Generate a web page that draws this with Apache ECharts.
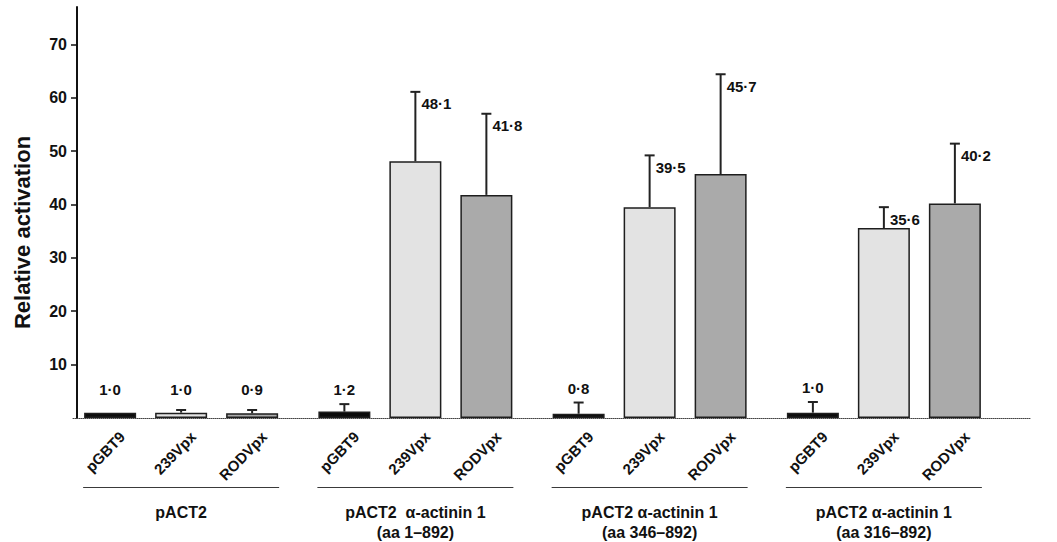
<!DOCTYPE html>
<html><head><meta charset="utf-8">
<script src="https://cdn.jsdelivr.net/npm/echarts@6/dist/echarts.min.js"></script>
<style>html,body{margin:0;padding:0;background:#fff}#c{width:1057px;height:542px}</style>
</head><body><div id="c"></div>
<script>
// ---- data ----
const groups = ['pACT2', 'pACT2  α-actinin 1\n(aa 1–892)', 'pACT2 α-actinin 1\n(aa 346–892)', 'pACT2 α-actinin 1\n(aa 316–892)'];
const constructs = ['pGBT9', '239Vpx', 'RODVpx'];
const pGBT9Values = [1.0, 1.2, 0.8, 1.0];
const vpx239Values = [1.0, 48.1, 39.5, 35.6];
const rodVpxValues = [0.9, 41.8, 45.7, 40.2];
const pGBT9Errors = [0, 1.4, 2.1, 2.0];
const vpx239Errors = [0.5, 13.0, 9.7, 3.9];
const rodVpxErrors = [0.6, 15.2, 18.7, 11.2];
const yTicks = [10, 20, 30, 40, 50, 60, 70];

// ---- style / layout ----
const FONT = "'Liberation Sans', Arial, Helvetica, sans-serif";
const BAR_W = 52, BAR_GAP = 19, STEP = BAR_W + BAR_GAP;
const colors = ['#0b0b0b', '#e3e3e3', '#aaaaaa'];
const valueSets = [pGBT9Values, vpx239Values, rodVpxValues];
const errorSets = [pGBT9Errors, vpx239Errors, rodVpxErrors];

const errData = [];
valueSets.forEach((vals, s) => vals.forEach((v, i) => errData.push([i, s, v, errorSets[s][i]])));

function fmt(v) { return v.toFixed(1).replace('.', '·'); }

function renderItem(params, api) {
  const cat = api.value(0), s = api.value(1), v = api.value(2), e = api.value(3);
  const base = api.coord([cat, 0]);
  const x = base[0] + (s - 1) * STEP;
  const y0 = base[1];
  const yTop = api.coord([cat, v])[1];
  const yCap = api.coord([cat, v + e])[1];
  const ch = [];
  if (e > 0) {
    ch.push({type: 'line', shape: {x1: x, y1: yTop, x2: x, y2: yCap}, style: {stroke: '#222', lineWidth: 2}});
    ch.push({type: 'line', shape: {x1: x - 5, y1: yCap, x2: x + 5, y2: yCap}, style: {stroke: '#222', lineWidth: 2}});
  }
  const tStyle = {fontSize: 15, fontWeight: 'bold', fontFamily: FONT, fill: '#111'};
  if (v < 5) {
    const ly = Math.min(yCap - 14, api.coord([cat, 5.3])[1]);
    ch.push({type: 'text', x: x, y: ly, style: Object.assign({text: fmt(v), align: 'center', verticalAlign: 'middle'}, tStyle)});
  } else {
    ch.push({type: 'text', x: x + 6, y: yCap + 12, style: Object.assign({text: fmt(v), align: 'left', verticalAlign: 'middle'}, tStyle)});
  }
  ch.push({type: 'text', x: x + 12, y: y0 + 16, rotation: 46 * Math.PI / 180,
    style: Object.assign({text: constructs[s], align: 'right', verticalAlign: 'middle'}, tStyle)});
  return {type: 'group', children: ch};
}

const chart = echarts.init(document.getElementById('c'), null, {renderer: 'svg'});
chart.setOption({
  animation: false,
  backgroundColor: '#fff',
  grid: [
    {left: 64, right: 56, top: 7, bottom: 124},
    {left: 73, right: 27, top: 7, bottom: 124}
  ],
  xAxis: [
    {type: 'category', gridIndex: 0, data: groups,
      axisLine: {show: false}, axisTick: {show: false},
      axisLabel: {interval: 0, margin: 69,
        formatter: v => '{ln| }\n{sp| }\n' + v.split('\n').map(t => '{t|' + t + '}').join('\n'),
        rich: {
          ln: {width: 196, height: 1, lineHeight: 1, backgroundColor: '#3a3a3a', fontSize: 1},
          sp: {height: 14, lineHeight: 14, fontSize: 1},
          t: {fontSize: 16, fontWeight: 'bold', fontFamily: FONT, color: '#111', lineHeight: 20, align: 'center'}
        }
      }
    },
    {type: 'value', gridIndex: 1, min: 0, max: 1,
      axisLine: {show: true, lineStyle: {color: '#444', width: 1, type: 'dotted'}},
      axisTick: {show: false}, axisLabel: {show: false}, splitLine: {show: false}}
  ],
  yAxis: [
    {type: 'value', gridIndex: 0, min: 0, max: 77, interval: 10, offset: -13,
      name: 'Relative activation', nameLocation: 'middle', nameGap: 44, nameRotate: 90,
      nameTextStyle: {fontSize: 22, fontWeight: 'bold', fontFamily: FONT, color: '#111', padding: [0, 40, 0, 0]},
      axisLine: {show: true, lineStyle: {color: '#111', width: 2}},
      axisTick: {show: true, inside: false, length: 6, customValues: yTicks, lineStyle: {color: '#111', width: 1.5}},
      axisLabel: {customValues: yTicks, margin: 10, fontSize: 16, fontWeight: 'bold', fontFamily: FONT, color: '#111'},
      splitLine: {show: false}
    },
    {type: 'value', gridIndex: 1, show: false, min: 0, max: 77}
  ],
  series: valueSets.map((vals, s) => ({
    type: 'bar', name: constructs[s], xAxisIndex: 0, yAxisIndex: 0, data: vals,
    barWidth: BAR_W, barGap: (BAR_GAP / BAR_W * 100) + '%', silent: true,
    itemStyle: {color: colors[s], borderColor: '#1e1e1e', borderWidth: 1.5}
  })).concat([{
    type: 'custom', xAxisIndex: 0, yAxisIndex: 0, data: errData, clip: false, silent: true,
    encode: {x: 0, y: 2}, renderItem: renderItem, z: 5
  }])
});
</script></body></html>
